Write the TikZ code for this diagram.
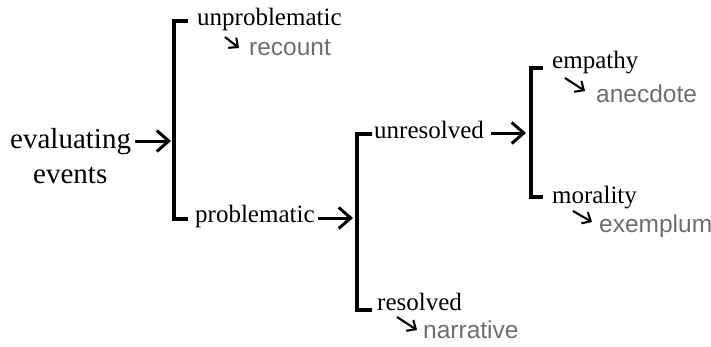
\documentclass[tikz,border=0pt]{standalone}
\usepackage{fontspec}
\setmainfont{Liberation Serif}
\newfontfamily\greyfont{Liberation Sans}
\usetikzlibrary{arrows.meta}
\definecolor{txtgrey}{HTML}{6E6E6E}
\tikzset{
  lab/.style={anchor=base west, inner sep=0pt, font=\fontsize{25}{30}\selectfont},
  biglab/.style={anchor=base west, inner sep=0pt, font=\fontsize{29}{34}\selectfont},
  glab/.style={anchor=base west, inner sep=0pt, text=txtgrey, font=\greyfont\fontsize{24.5}{29}\selectfont},
  brack/.style={line width=3.2pt, line cap=butt, line join=miter},
  bigarrow/.style={line width=3pt, -{Straight Barb[length=12pt,width=21pt,line width=3pt]}},
  smallarrow/.style={line width=2.1pt, -{Straight Barb[length=7pt,width=13pt,line width=2.1pt]}},
}
\begin{document}
\begin{tikzpicture}[x=1pt,y=-1pt]
\useasboundingbox (0,0) rectangle (711,346);
% texts
\node[biglab] (eval) at (10,148) {evaluating};
\node[biglab] (events) at (33,183) {events};
\node[lab] (unprob) at (197,25) {unproblematic};
\node[glab] (recount) at (249,55) {recount};
\node[lab] (prob) at (195,222) {problematic};
\node[lab] (unres) at (374,138) {unresolved};
\node[lab] (res) at (377,310) {resolved};
\node[glab] (narr) at (423,338) {narrative};
\node[lab] (emp) at (552,68) {empathy};
\node[glab] (anec) at (596,102) {anecdote};
\node[lab] (mor) at (552,203) {morality};
\node[glab] (exem) at (599,232) {exemplum};
% bracket coordinates
\coordinate (b1t) at (174,21);
\coordinate (b1b) at (174,219);
\coordinate (b1m) at (174,141);
\coordinate (b2t) at (357,134);
\coordinate (b2b) at (357,310);
\coordinate (b2m) at (357,218);
\coordinate (b3t) at (531,68);
\coordinate (b3b) at (531,197);
\coordinate (b3m) at (531,133);
% brackets
\draw[brack] ([xshift=14pt]b1t) -- (b1t) -- (b1b) -- ([xshift=14pt]b1b);
\draw[brack] ([xshift=15pt]b2t) -- (b2t) -- (b2b) -- ([xshift=15pt]b2b);
\draw[brack] ([xshift=12pt]b3t) -- (b3t) -- (b3b) -- ([xshift=12pt]b3b);
% big arrows
\coordinate (a1s) at (135,141);
\draw[bigarrow] (a1s) -- ([xshift=-3pt]b1m);
\coordinate (a2s) at (318,218);
\draw[bigarrow] (a2s) -- ([xshift=-4pt]b2m);
\coordinate (a3s) at (491,133);
\draw[bigarrow] (a3s) -- ([xshift=-5pt]b3m);
% small arrows
\coordinate (s1) at (225,37);
\coordinate (e1) at (239,48);
\draw[smallarrow] (s1) -- (e1);
\coordinate (s2) at (565,78);
\coordinate (e2) at (585,91);
\draw[smallarrow] (s2) -- (e2);
\coordinate (s3) at (573,211);
\coordinate (e3) at (592,222);
\draw[smallarrow] (s3) -- (e3);
\coordinate (s4) at (397,317);
\coordinate (e4) at (417,330);
\draw[smallarrow] (s4) -- (e4);
\end{tikzpicture}
\end{document}
